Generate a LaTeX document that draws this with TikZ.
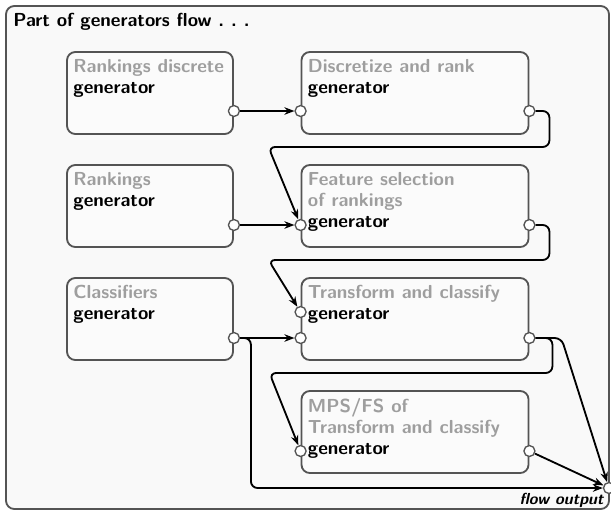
\documentclass[tikz,border=0pt]{standalone}
\usetikzlibrary{arrows.meta}
\definecolor{framefill}{gray}{0.975}
\definecolor{boxfill}{gray}{0.985}
\definecolor{boxline}{gray}{0.33}
\definecolor{softtext}{gray}{0.62}
\tikzset{
  genbox/.style={draw=boxline, fill=boxfill, line width=1.1pt, rounded corners=5pt,
    minimum height=82*0.6pt, inner sep=0pt},
  leftbox/.style={genbox, minimum width=166*0.6pt},
  rightbox/.style={genbox, minimum width=227*0.6pt},
  gentext/.style={anchor=north west, align=left, inner sep=0pt,
    font=\fontsize{11.3}{12.6}\selectfont\sffamily\bfseries},
  port/.style={circle, draw=boxline, fill=white, line width=0.8pt,
    minimum size=6.6pt, inner sep=0pt},
  flow/.style={-{Stealth[length=6pt,width=4.5pt]}, line width=1.1pt, rounded corners=4pt}
}
\newcommand{\soft}[1]{\textcolor{softtext}{#1}}
\begin{document}
\begin{tikzpicture}[x=0.6pt,y=-0.6pt]
\useasboundingbox (0,0) rectangle (611,511);
% outer frame
\draw[draw=boxline, fill=framefill, line width=1.1pt, rounded corners=5pt] (6,6) rectangle (609,509);
\node[gentext] (title) at (13,13) {Part of generators flow .\ .\ .};
% generator boxes
\node[leftbox] (rd) at (150,93) {};
\node[rightbox] (dr) at (415,93) {};
\node[leftbox] (rk) at (150,206) {};
\node[rightbox] (fs) at (415,206) {};
\node[leftbox] (cl) at (150,319) {};
\node[rightbox] (tc) at (415,319) {};
\node[rightbox] (mp) at (415,432) {};
% box texts
\node[gentext] at ([shift={(7,8)}]rd.north west) {\soft{Rankings discrete}\\generator};
\node[gentext] at ([shift={(7,8)}]dr.north west) {\soft{Discretize and rank}\\generator};
\node[gentext] at ([shift={(7,8)}]rk.north west) {\soft{Rankings}\\generator};
\node[gentext] at ([shift={(7,8)}]fs.north west) {\soft{Feature selection}\\\soft{of rankings}\\generator};
\node[gentext] at ([shift={(7,8)}]cl.north west) {\soft{Classifiers}\\generator};
\node[gentext] at ([shift={(7,8)}]tc.north west) {\soft{Transform and classify}\\generator};
\node[gentext] at ([shift={(7,8)}]mp.north west) {\soft{MPS/FS of}\\\soft{Transform and classify}\\generator};
% ports
\node[port] (rdo) at ([shift={(0,18)}]rd.east) {};
\node[port] (dri) at ([shift={(0,18)}]dr.west) {};
\node[port] (dro) at ([shift={(0,18)}]dr.east) {};
\node[port] (rko) at ([shift={(0,19)}]rk.east) {};
\node[port] (fsi) at ([shift={(0,19)}]fs.west) {};
\node[port] (fso) at ([shift={(0,19)}]fs.east) {};
\node[port] (clo) at ([shift={(0,19)}]cl.east) {};
\node[port] (tca) at ([shift={(0,-7)}]tc.west) {};
\node[port] (tcb) at ([shift={(0,19)}]tc.west) {};
\node[port] (tco) at ([shift={(0,19)}]tc.east) {};
\node[port] (mpi) at ([shift={(0,19)}]mp.west) {};
\node[port] (mpo) at ([shift={(0,19)}]mp.east) {};
\node[port] (out) at (609,488) {};
\node[anchor=north east, inner sep=0pt, font=\fontsize{9.6}{11}\selectfont\sffamily\bfseries\slshape] (outlabel) at (604,493) {flow output};
% connectors
\draw[flow] (rdo) -- (dri);
\draw[flow] (dro) -- ++(20,0) -- ++(0,36) -- ++(-281,0) -- (fsi);
\draw[flow] (rko) -- (fsi);
\draw[flow] (fso) -- ++(20,0) -- ++(0,35) -- ++(-281,0) -- (tca);
\draw[flow] (clo) -- (tcb);
\draw[flow] (clo) -- ++(17,0) |- (out);
\draw[flow] (tco) -- ++(23,0) -- ++(0,35) -- ++(-283,0) -- (mpi);
\draw[flow] (tco) -- ++(32,0) -- (out);
\draw[flow] (mpo) -- (out);
\end{tikzpicture}
\end{document}
